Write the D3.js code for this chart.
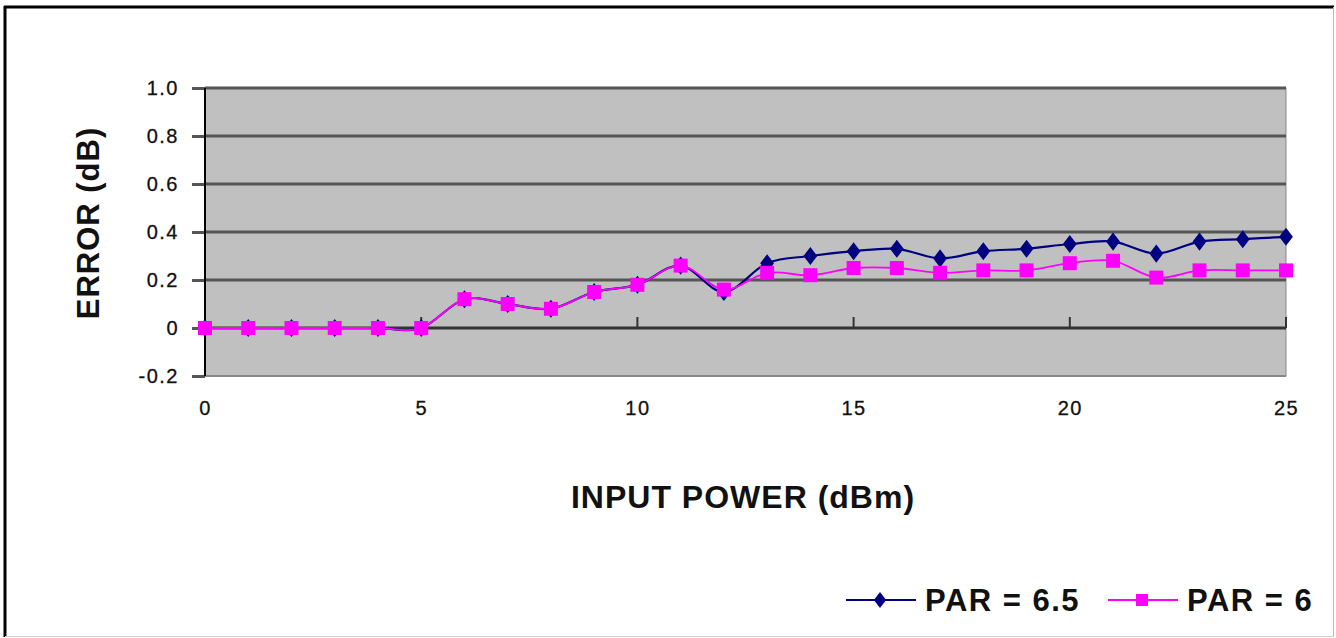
<!DOCTYPE html>
<html><head><meta charset="utf-8">
<script src="https://cdn.jsdelivr.net/npm/d3@7"></script>
<style>body{margin:0;background:#fff;}svg{display:block;}</style>
</head><body><svg id="c" width="1336" height="638"></svg>
<script>
const xValues = [0,1,2,3,4,5,6,7,8,9,10,11,12,13,14,15,16,17,18,19,20,21,22,23,24,25];
const par65 = [0,0,0,0,0,0,0.12,0.10,0.08,0.15,0.18,0.26,0.15,0.27,0.30,0.32,0.33,0.29,0.32,0.33,0.35,0.36,0.31,0.36,0.37,0.38];
const par6  = [0,0,0,0,0,0,0.12,0.10,0.08,0.15,0.18,0.26,0.16,0.23,0.22,0.25,0.25,0.23,0.24,0.24,0.27,0.28,0.21,0.24,0.24,0.24];
const yTicks = [-0.2,0,0.2,0.4,0.6,0.8,1.0];
const yTickLabels = ["-0.2","0","0.2","0.4","0.6","0.8","1.0"];
const xTicks = [0,5,10,15,20,25];
const seriesNames = ["PAR = 6.5","PAR = 6"];

const FONT = "Liberation Sans, Arial, sans-serif";
const svg = d3.select("#c");
const L=205, R=1286, T=88, B=376;
const x = d3.scaleLinear().domain([0,25]).range([L,R]);
const y = d3.scaleLinear().domain([-0.2,1.0]).range([B,T]);

// outer frame
svg.append("line").attr("x1",4).attr("y1",7).attr("x2",1334).attr("y2",7).attr("stroke","#000").attr("stroke-width",3);
svg.append("line").attr("x1",5).attr("y1",6).attr("x2",5).attr("y2",637).attr("stroke","#000").attr("stroke-width",3);
svg.append("line").attr("x1",1333.5).attr("y1",7).attr("x2",1333.5).attr("y2",637).attr("stroke","#bbb").attr("stroke-width",1);
svg.append("line").attr("x1",5).attr("y1",636.5).attr("x2",1334).attr("y2",636.5).attr("stroke","#ccc").attr("stroke-width",1);

// plot area
svg.append("rect").attr("x",L).attr("y",T).attr("width",R-L).attr("height",B-T)
  .attr("fill","#c0c0c0").attr("stroke","#8a8a8a").attr("stroke-width",1);

// gridlines
svg.append("g").selectAll("line").data(yTicks.filter(v=>v!==0 && v!==-0.2)).join("line")
  .attr("x1",L).attr("x2",R).attr("y1",d=>y(d)).attr("y2",d=>y(d))
  .attr("stroke","#555").attr("stroke-width",3);
svg.append("line").attr("x1",L).attr("x2",R).attr("y1",B).attr("y2",B).attr("stroke","#888").attr("stroke-width",2);

// y axis
const yAxis = d3.axisLeft(y).tickValues(yTicks).tickFormat((d,i)=>yTickLabels[i]).tickSize(13).tickPadding(13);
const gy = svg.append("g").attr("transform",`translate(${L},0)`).call(yAxis);
gy.select(".domain").remove();
gy.selectAll(".tick line").attr("stroke","#555").attr("stroke-width",3);
gy.selectAll("text").attr("font-family",FONT).attr("font-size",20).attr("letter-spacing","1.5px")
  .attr("fill","#111").attr("stroke","#111").attr("stroke-width",0.3);
svg.append("line").attr("x1",L).attr("x2",L).attr("y1",T).attr("y2",B).attr("stroke","#000").attr("stroke-width",2);

// x axis at y=0
svg.append("line").attr("x1",L).attr("x2",R).attr("y1",y(0)).attr("y2",y(0)).attr("stroke","#333").attr("stroke-width",3);
const xAxis = d3.axisBottom(x).tickValues(xTicks).tickSize(0).tickPadding(0);
const gx = svg.append("g").attr("transform",`translate(0,${B+32})`).call(xAxis);
gx.select(".domain").remove();
gx.selectAll(".tick line").remove();
gx.selectAll("text").attr("font-family",FONT).attr("font-size",20).attr("letter-spacing","1.5px")
  .attr("fill","#111").attr("stroke","#111").attr("stroke-width",0.3).attr("dy","0.35em");
svg.append("g").selectAll("line").data(xTicks.filter(d=>d>0)).join("line")
  .attr("x1",d=>x(d)).attr("x2",d=>x(d)).attr("y1",y(0)-11).attr("y2",y(0))
  .attr("stroke","#333").attr("stroke-width",2);

// axis titles
svg.append("text").attr("transform","translate(99,223) rotate(-90)").attr("text-anchor","middle")
  .attr("font-family",FONT).attr("font-weight","bold").attr("font-size",31).attr("letter-spacing","1px").attr("fill","#111")
  .text("ERROR (dB)");
svg.append("text").attr("x",743).attr("y",508).attr("text-anchor","middle")
  .attr("font-family",FONT).attr("font-weight","bold").attr("font-size",32).attr("letter-spacing","1px").attr("fill","#111")
  .text("INPUT POWER (dBm)");

// series
const line = d3.line().x((d,i)=>x(xValues[i])).y(d=>y(d)).curve(d3.curveCatmullRom.alpha(0));
const navy="#000080", pink="#ff00ff";
svg.append("path").datum(par65).attr("d",line).attr("fill","none").attr("stroke",navy).attr("stroke-width",2.2);
svg.append("g").selectAll("path").data(par65).join("path")
  .attr("d",d3.symbol().type(d3.symbolDiamond2).size(190))
  .attr("transform",(d,i)=>`translate(${x(xValues[i])},${y(d)}) scale(0.8,1.05)`).attr("fill",navy);
svg.append("path").datum(par6).attr("d",line).attr("fill","none").attr("stroke",pink).attr("stroke-width",1.8);
svg.append("g").selectAll("rect").data(par6).join("rect")
  .attr("x",(d,i)=>x(xValues[i])-7).attr("y",d=>y(d)-7).attr("width",14).attr("height",14).attr("fill",pink);

// legend
const leg = svg.append("g");
const items=[{name:seriesNames[0],c:navy,x0:846,sym:"d"},{name:seriesNames[1],c:pink,x0:1108,sym:"s"}];
items.forEach(it=>{
  leg.append("line").attr("x1",it.x0).attr("x2",it.x0+70).attr("y1",600).attr("y2",600).attr("stroke",it.c).attr("stroke-width",2);
  if(it.sym==="d"){
    leg.append("path").attr("d",d3.symbol().type(d3.symbolDiamond2).size(150)).attr("transform",`translate(${it.x0+34},600) scale(0.8,1.05)`).attr("fill",it.c);
  } else {
    leg.append("rect").attr("x",it.x0+28).attr("y",594).attr("width",12).attr("height",12).attr("fill",it.c);
  }
  leg.append("text").attr("x",it.x0+79).attr("y",611).attr("font-family",FONT)
    .attr("font-weight","bold").attr("font-size",31).attr("letter-spacing","1.5px").attr("fill","#111").text(it.name);
});
</script></body></html>
